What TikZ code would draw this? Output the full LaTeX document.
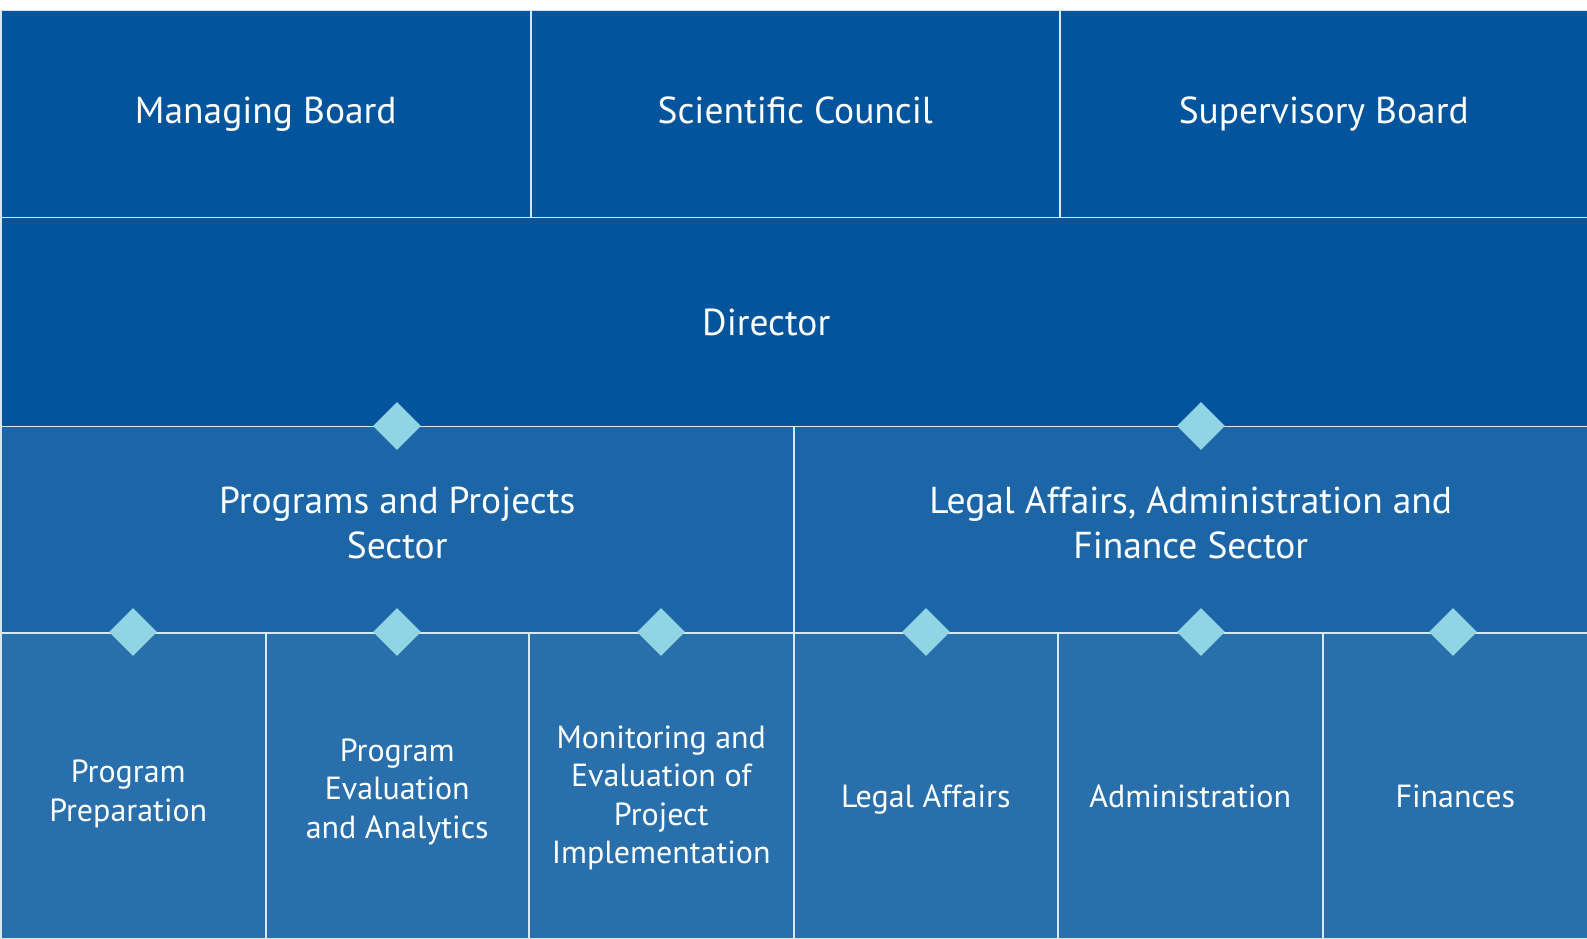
\documentclass[tikz,border=0pt]{standalone}
\usepackage{fontspec}
\setmainfont{PT Sans}
\usetikzlibrary{shapes.geometric}
\definecolor{boardblue}{RGB}{2,85,157}
\definecolor{sectorblue}{RGB}{28,102,167}
\definecolor{unitblue}{RGB}{40,111,171}
\definecolor{rulecol}{RGB}{214,232,246}
\definecolor{gemcol}{RGB}{145,212,228}
\begin{document}
\begin{tikzpicture}[x=1pt,y=1pt,
  cell/.style={draw=rulecol, line width=1.5pt, inner sep=0pt, anchor=north west},
  label/.style={text=white, align=center, inner sep=0pt},
  bigtext/.style={font=\fontsize{37.5}{44.5}\selectfont},
  smalltext/.style={font=\fontsize{32}{38.5}\selectfont},
  bigline/.style={label, bigtext, text height=26pt, text depth=0pt},
  smallline/.style={label, smalltext, text height=22.5pt, text depth=0pt},
  gem/.style={diamond, fill=gemcol, minimum width=48, minimum height=48, inner sep=0pt}]
  \useasboundingbox (0,0) rectangle (1587,938);
  % boards
  \node[cell, fill=boardblue, minimum width=530, minimum height=207]
    (managing) at (0,928) {};
  \node[cell, fill=boardblue, minimum width=529, minimum height=207]
    (council) at (530,928) {};
  \node[cell, fill=boardblue, minimum width=528, minimum height=207]
    (supervisory) at (1059,928) {};
  \node[bigline] (managingtext) at ([yshift=4]managing.center) {Managing Board};
  \node[bigline] (counciltext) at ([yshift=4]council.center) {Scientific Council};
  \node[bigline] (supervisorytext) at ([yshift=4]supervisory.center) {Supervisory Board};
  % director
  \node[cell, fill=boardblue, minimum width=1587, minimum height=209]
    (director) at (0,721) {};
  \node[bigline] (directortext) at ([xshift=-28]director.center) {Director};
  % sectors
  \node[cell, fill=sectorblue, minimum width=793, minimum height=206]
    (programs) at (0,512) {};
  \node[cell, fill=sectorblue, minimum width=794, minimum height=206]
    (legal) at (793,512) {};
  \node[label, bigtext] (programstext) at ([yshift=7]programs.center)
    {Programs and Projects\\Sector};
  \node[label, bigtext] (legaltext) at ([yshift=7]legal.center)
    {Legal Affairs, Administration and\\Finance Sector};
  % units
  \node[cell, fill=unitblue, minimum width=265, minimum height=306]
    (preparation) at (0,306) {};
  \node[cell, fill=unitblue, minimum width=263, minimum height=306]
    (analytics) at (265,306) {};
  \node[cell, fill=unitblue, minimum width=265, minimum height=306]
    (monitoring) at (528,306) {};
  \node[cell, fill=unitblue, minimum width=264, minimum height=306]
    (legalaff) at (793,306) {};
  \node[cell, fill=unitblue, minimum width=265, minimum height=306]
    (administration) at (1057,306) {};
  \node[cell, fill=unitblue, minimum width=265, minimum height=306]
    (finances) at (1322,306) {};
  \node[label, smalltext] (preparationtext) at ([xshift=-5,yshift=-8]preparation.center)
    {Program\\Preparation};
  \node[label, smalltext] (analyticstext) at ([yshift=-6]analytics.center)
    {Program\\Evaluation\\and Analytics};
  \node[label, smalltext] (monitoringtext) at ([yshift=-12]monitoring.center)
    {Monitoring and\\Evaluation of\\Project\\Implementation};
  \node[smallline] (legalafftext) at ([yshift=-10]legalaff.center) {Legal Affairs};
  \node[smallline] (administrationtext) at ([yshift=-10]administration.center) {Administration};
  \node[smallline] (financestext) at ([yshift=-10]finances.center) {Finances};
  % diamonds
  \node[gem] (gemprog) at (397,512) {};
  \node[gem] (gemlegal) at (1201,512) {};
  \node[gem] (gemprep) at (133,306) {};
  \node[gem] (gemanal) at (397,306) {};
  \node[gem] (gemmon) at (661,306) {};
  \node[gem] (gemlaw) at (926,306) {};
  \node[gem] (gemadm) at (1201,306) {};
  \node[gem] (gemfin) at (1453,306) {};
\end{tikzpicture}
\end{document}
